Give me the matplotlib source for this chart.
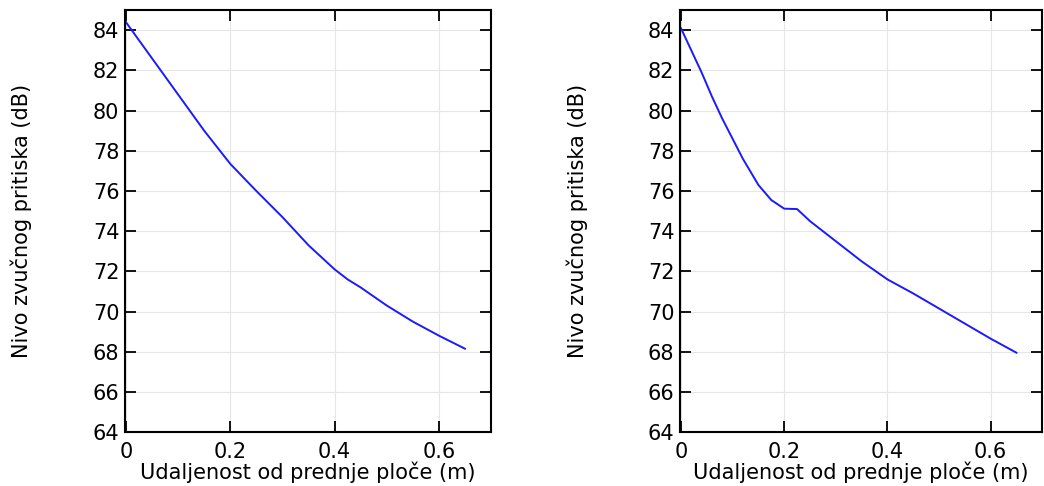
import matplotlib
matplotlib.use('Agg')
import matplotlib.pyplot as plt

# udaljenost (m) i nivo zvucnog pritiska (dB)
x_left = [0, 0.05, 0.1, 0.15, 0.2, 0.25, 0.3, 0.35, 0.4, 0.425, 0.45, 0.5, 0.55, 0.6, 0.65]
y_left = [84.4, 82.6, 80.8, 79.0, 77.35, 76.0, 74.7, 73.3, 72.1, 71.6, 71.2, 70.3, 69.5, 68.8, 68.15]

x_right = [0, 0.02, 0.04, 0.06, 0.08, 0.1, 0.12, 0.15, 0.175, 0.2, 0.225, 0.25,
           0.3, 0.35, 0.4, 0.45, 0.5, 0.55, 0.6, 0.65]
y_right = [84.1, 83.0, 81.9, 80.7, 79.6, 78.6, 77.6, 76.3, 75.55, 75.12, 75.1, 74.5,
           73.5, 72.5, 71.6, 70.9, 70.15, 69.4, 68.65, 67.95]

xticks = [0, 0.2, 0.4, 0.6]
xtick_labels = ['0', '0.2', '0.4', '0.6']
yticks = list(range(64, 85, 2))

xlabel = 'Udaljenost od prednje ploče (m)'
ylabel = 'Nivo zvučnog pritiska (dB)'

fig = plt.figure(figsize=(10.44, 4.86), dpi=100)
ax1 = fig.add_axes([0.1197, 0.111, 0.3506, 0.868])
ax2 = fig.add_axes([0.6513, 0.111, 0.347, 0.868])

for ax, xs, ys in [(ax1, x_left, y_left), (ax2, x_right, y_right)]:
    ax.plot(xs, ys, color='#1a1aff', linewidth=1.4)
    ax.set_xlim(-0.002, 0.7)
    ax.set_ylim(64, 85)
    ax.set_xticks(xticks)
    ax.set_xticklabels(xtick_labels)
    ax.set_yticks(yticks)
    ax.grid(True, color='#e6e6e6', linewidth=0.8)
    ax.set_axisbelow(True)
    ax.tick_params(direction='in', length=8, width=1.3, top=True, right=True,
                   labelsize=15, colors='black')
    ax.tick_params(axis='x', pad=7)
    ax.tick_params(axis='y', pad=4)
    for s in ax.spines.values():
        s.set_linewidth(1.5)
    ax.set_xlabel(xlabel, fontsize=15, labelpad=0)
    ax.set_ylabel(ylabel, fontsize=15)
    ax.yaxis.set_label_coords(-0.254, 0.5)

fig.savefig('out.png', dpi=100)
